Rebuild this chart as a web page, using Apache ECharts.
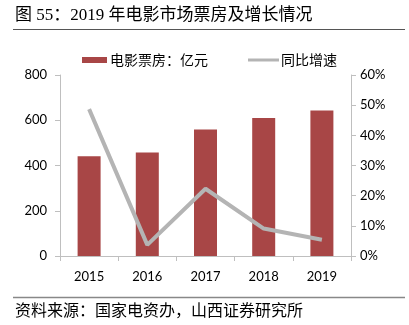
<!DOCTYPE html>
<html><head><meta charset="utf-8">
<script src="https://cdn.jsdelivr.net/npm/echarts@6/dist/echarts.min.js"></script>
<style>html,body{margin:0;padding:0;background:#fff}#c{width:409px;height:325px}</style>
</head><body><div id="c"></div>
<script>
const categories = ['2015','2016','2017','2018','2019'];
const boxOffice = [440.7, 457.1, 559.1, 609.8, 642.7];
const growth = [0.487, 0.037, 0.223, 0.091, 0.054];
const leftTicks = [0, 800, 200];
const rightTicks = [0, 0.6, 0.1];

const chart = echarts.init(document.getElementById('c'), null, {renderer:'canvas'});
const axisGrey = '#BFBFBF';
const lab = {color:'#000', fontFamily:'Lato, "Open Sans", sans-serif', fontSize:13};
chart.setOption({
  animation:false,
  graphic:[
    {type:'text', left:15, top:7, style:{text:'图 55：2019 年电影市场票房及增长情况', font:'17px "Liberation Serif", "Noto Sans CJK SC"', fill:'#000'}},
    {type:'line', shape:{x1:13,y1:29.5,x2:405,y2:29.5}, style:{stroke:'#555',lineWidth:1}},
    {type:'line', shape:{x1:13,y1:297.5,x2:405,y2:297.5}, style:{stroke:'#888',lineWidth:1.5}},
    {type:'text', left:15, top:302, style:{text:'资料来源：国家电资办，山西证券研究所', font:'16px "Noto Sans CJK SC"', fill:'#000'}}
  ],
  legend:[
    {data:[{name:'电影票房：亿元', icon:'rect'}], left:77, top:48, itemWidth:25, itemHeight:6, itemGap:10,
     textStyle:{fontSize:14, fontFamily:'"Noto Sans CJK SC"', color:'#000', padding:[0,0,0,-2]}},
    {data:[{name:'同比增速', icon:'rect'}], left:243, top:48, itemWidth:31, itemHeight:3,
     textStyle:{fontSize:14, fontFamily:'"Noto Sans CJK SC"', color:'#000', padding:[0,0,0,-3]}}
  ],
  grid:{left:60, right:58, top:75, bottom:69},
  xAxis:{type:'category', data:categories, boundaryGap:true,
    axisLine:{lineStyle:{color:axisGrey}}, axisTick:{show:true, length:5, lineStyle:{color:axisGrey}},
    axisLabel:Object.assign({margin:14}, lab)},
  yAxis:[
    {type:'value', min:leftTicks[0], max:leftTicks[1], interval:leftTicks[2], splitLine:{show:false},
     axisLine:{show:true, lineStyle:{color:axisGrey}}, axisTick:{show:true, length:5, lineStyle:{color:axisGrey}},
     axisLabel:Object.assign({margin:13}, lab)},
    {type:'value', min:rightTicks[0], max:rightTicks[1], interval:rightTicks[2], position:'right', splitLine:{show:false},
     axisLine:{show:true, lineStyle:{color:axisGrey}}, axisTick:{show:true, length:5, lineStyle:{color:axisGrey}},
     axisLabel:Object.assign({margin:9, formatter:v=>Math.round(v*100)+'%'}, lab)}
  ],
  series:[
    {name:'电影票房：亿元', type:'bar', data:boxOffice, barWidth:23, itemStyle:{color:'#A84646'}},
    {name:'同比增速', type:'line', yAxisIndex:1, data:growth, symbol:'none', color:'#B4B4B4',
     lineStyle:{width:4, color:'#B4B4B4'}}
  ]
});
</script></body></html>
